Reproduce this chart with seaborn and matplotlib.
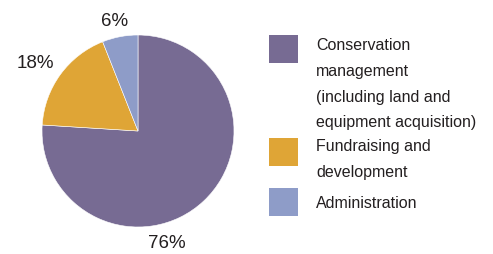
import matplotlib
matplotlib.use('Agg')
import matplotlib.pyplot as plt
from matplotlib.patches import Rectangle
import numpy as np
import seaborn as sns

# data
categories = ['Conservation\nmanagement\n(including land and\nequipment acquisition)',
              'Fundraising and\ndevelopment',
              'Administration']
shares = [76, 18, 6]
colors = ['#776b93', '#dfa536', '#8e9cc8']

sns.set_style('white')
plt.rcParams['font.family'] = ['Liberation Sans', 'DejaVu Sans']
text_color = '#231f20'

fig = plt.figure(figsize=(4.93, 2.54), dpi=100)

# pie area: centre ~ (138,130) px, radius ~96 px
ax = fig.add_axes([42 / 493, (254 - 227) / 254, 192 / 493, 192 / 254])
wedges, texts, autotexts = ax.pie(
    shares, colors=colors, startangle=90, counterclock=False,
    autopct='%d%%', pctdistance=1.23,
    wedgeprops=dict(edgecolor='white', linewidth=0.4),
    textprops=dict(fontsize=13.5, color=text_color))

# the percentage labels sit off the wedge centres in the original
label_polar = [(-75.5, 1.21), (146.9, 1.28), (101.8, 1.17)]
for t, (ang, dist) in zip(autotexts, label_polar):
    a = np.deg2rad(ang)
    t.set_position((dist * np.cos(a), dist * np.sin(a)))
    t.set_va('center')
    t.set_ha('center')

ax.set_xlim(-1, 1)
ax.set_ylim(-1, 1)
ax.set_aspect('equal')
ax.axis('off')

# legend drawn in pixel coordinates
lg = fig.add_axes([0, 0, 1, 1], zorder=-1)
lg.set_xlim(0, 493)
lg.set_ylim(254, 0)
lg.axis('off')
box_tops = [35, 138, 188]
text_tops = [38, 139, 196]
for label, col, bt, tt in zip(categories, colors, box_tops, text_tops):
    lg.add_patch(Rectangle((269, bt), 29, 28, facecolor=col, edgecolor='none'))
    lg.text(316, tt, label, fontsize=11.5, color=text_color,
            va='top', ha='left', linespacing=1.9)

fig.savefig('out.png', dpi=100)
